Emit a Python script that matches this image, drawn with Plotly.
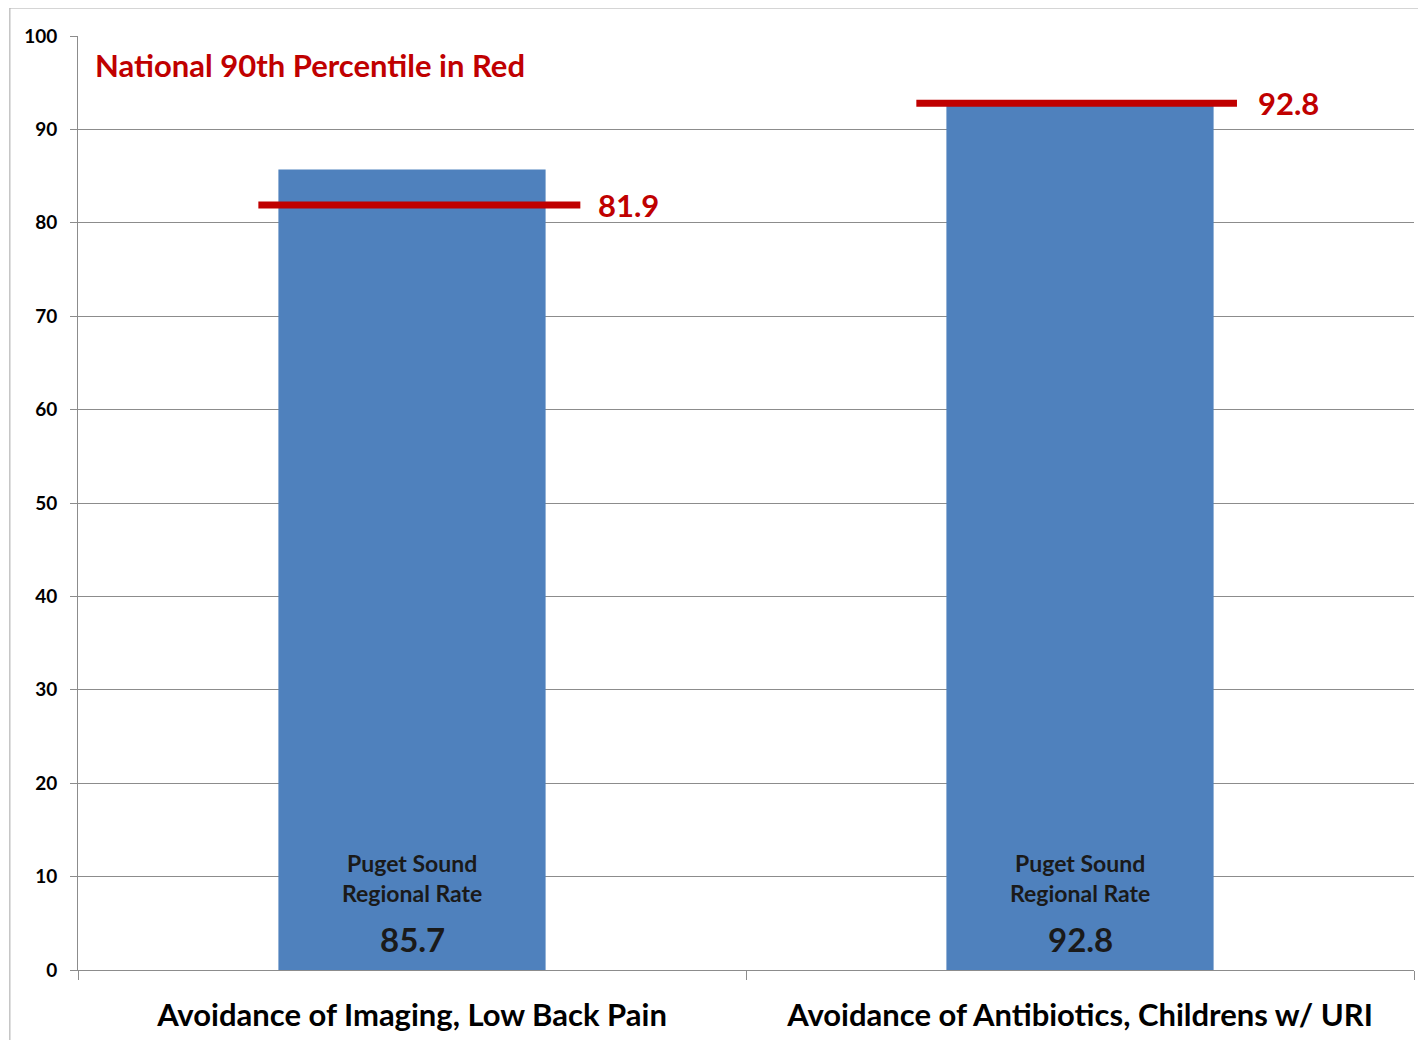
import plotly.graph_objects as go

categories = ["Avoidance of Imaging, Low Back Pain", "Avoidance of Antibiotics, Childrens w/ URI"]
regional_rate = [85.7, 92.8]
national_90th = [81.9, 92.8]
y_ticks = [0, 10, 20, 30, 40, 50, 60, 70, 80, 90, 100]

BLUE = "#4F81BD"
RED = "#C00000"
FONT = "Lato"

# horizontal extent of each red marker relative to category centre (style only)
RED_LEFT = [-0.23, -0.245]
RED_RIGHT = [0.252, 0.235]
LABEL_GAP = [0.023, 0.029]

xpos = list(range(len(categories)))

fig = go.Figure()
fig.add_trace(go.Bar(
    x=xpos, y=regional_rate, width=0.40, marker=dict(color=BLUE, line=dict(width=0)),
    showlegend=False, hoverinfo="skip",
))

# red national percentile lines
for i, v in enumerate(national_90th):
    fig.add_shape(type="line", xref="x", yref="y", x0=i + RED_LEFT[i], x1=i + RED_RIGHT[i], y0=v, y1=v,
                  line=dict(color=RED, width=7), layer="above")
    fig.add_annotation(x=i + RED_RIGHT[i] + LABEL_GAP[i], y=v, xref="x", yref="y", text=f"<b>{v}</b>",
                       showarrow=False, xanchor="left", yanchor="middle",
                       font=dict(family=FONT, size=31, color=RED))

# bar inner labels
for i, v in enumerate(regional_rate):
    fig.add_annotation(x=i, y=0, xref="x", yref="y", text="<b>Puget Sound<br>Regional Rate</b>",
                       showarrow=False, yanchor="bottom", yshift=61,
                       font=dict(family=FONT, size=23, color="#1a1a1a"))
    fig.add_annotation(x=i, y=0, xref="x", yref="y", text=f"<b>{v}</b>",
                       showarrow=False, yanchor="bottom", yshift=9,
                       font=dict(family=FONT, size=33, color="#1a1a1a"))

fig.add_annotation(x=0.011, y=0.969, xref="paper", yref="paper",
                   text="<b>National 90th Percentile in Red</b>", showarrow=False,
                   xanchor="left", yanchor="middle",
                   font=dict(family=FONT, size=31, color=RED))

# outer frame (extends off the right/bottom edges)
fig.add_shape(type="rect", xref="paper", yref="paper", x0=-0.051, x1=1.2, y0=-0.3, y1=1.03,
              line=dict(color="#A6A6A6", width=1), fillcolor="rgba(0,0,0,0)", layer="below")

fig.update_layout(
    width=1418, height=1032,
    margin=dict(l=70, r=12, t=28, b=70),
    paper_bgcolor="white", plot_bgcolor="white",
    bargap=0.6,
    xaxis=dict(
        range=[-0.5, 1.5], tickmode="array", tickvals=xpos,
        ticktext=[f"<b>{c}</b>" for c in categories],
        ticks="", showgrid=False, zeroline=False, automargin=False,
        showline=True, linecolor="#8C8C8C", linewidth=1,
        tickfont=dict(family=FONT, size=31, color="black"),
        ticklabelstandoff=18,
        minor=dict(tickmode="array", tickvals=[-0.5, 0.5, 1.5], ticks="outside",
                   ticklen=9, tickcolor="#8C8C8C", showgrid=False),
    ),
    yaxis=dict(
        range=[0, 100], tickmode="array", tickvals=y_ticks,
        ticktext=[f"<b>{t}</b>" for t in y_ticks],
        ticks="outside", ticklen=7, tickcolor="#8C8C8C", automargin=False,
        showgrid=True, gridcolor="#8C8C8C", gridwidth=1,
        showline=True, linecolor="#8C8C8C", linewidth=1, zeroline=False,
        tickfont=dict(family=FONT, size=19, color="black"),
        ticklabelstandoff=9,
    ),
)

fig.write_html("out.html")
